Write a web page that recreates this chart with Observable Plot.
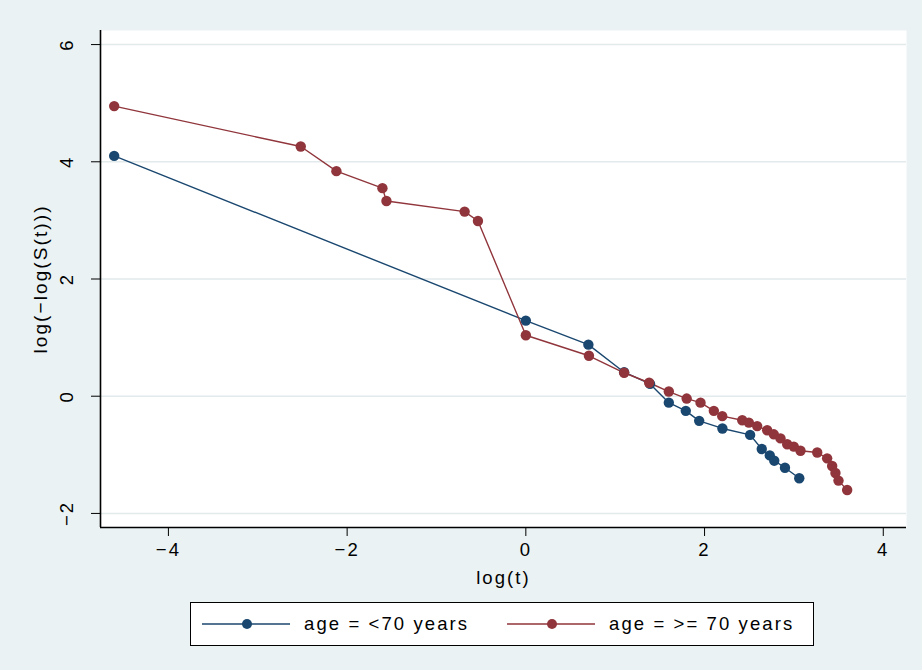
<!DOCTYPE html>
<html>
<head>
<meta charset="utf-8">
<script src="https://cdn.jsdelivr.net/npm/d3@7"></script>
<script src="https://cdn.jsdelivr.net/npm/@observablehq/plot@0.6"></script>
<style>
  body { margin: 0; background: #eaf2f3; }
  #wrap { position: relative; width: 922px; height: 670px; background: #eaf2f3; font-family: "Liberation Sans", Arial, sans-serif; }
  #legend { position: absolute; left: 190px; top: 602px; width: 622px; height: 42px; border: 1.5px solid #000; background: #fff; }
  .item { position: absolute; top: 0; height: 42px; display: flex; align-items: center; }
  .lbl { font-size: 18.5px; letter-spacing: 2.1px; color: #000; margin-left: 14px; white-space: nowrap; }
</style>
</head>
<body>
<div id="wrap"><div id="legend"></div></div>
<script>
// ---- data ----
const groups = ["age = <70 years", "age = >= 70 years"];
const colors = ["#1a476f", "#90353b"];

const youngLogT    = [-4.607, 0.000, 0.700, 1.100, 1.390, 1.600, 1.790, 1.940, 2.200, 2.510, 2.640, 2.730, 2.780, 2.900, 3.060];
const youngLogLogS = [ 4.100, 1.290, 0.880, 0.410, 0.210, -0.110, -0.250, -0.420, -0.550, -0.660, -0.900, -1.010, -1.100, -1.220, -1.400];

const oldLogT    = [-4.607, -2.519, -2.120, -1.605, -1.560, -0.685, -0.536, 0.000, 0.706, 1.100, 1.380, 1.600, 1.800, 1.955, 2.104, 2.198, 2.422, 2.496, 2.589, 2.701, 2.775, 2.850, 2.925, 2.999, 3.074, 3.261, 3.372, 3.428, 3.465, 3.499, 3.596];
const oldLogLogS = [ 4.950, 4.260, 3.840, 3.550, 3.330, 3.150, 2.990, 1.040, 0.690, 0.400, 0.230, 0.080, -0.040, -0.110, -0.250, -0.340, -0.410, -0.450, -0.510, -0.580, -0.650, -0.720, -0.820, -0.860, -0.930, -0.960, -1.060, -1.190, -1.310, -1.440, -1.600];

const xTicks = [-4, -2, 0, 2, 4];
const yTicks = [-2, 0, 2, 4, 6];
const xDomain = [-4.76, 4.26];
const yDomain = [-2.24, 6.24];
const xTitle = "log(t)";
const yTitle = "log(−log(S(t)))";

// ---- build table ----
const rows = [];
youngLogT.forEach((t, i) => rows.push({group: groups[0], logT: t, v: youngLogLogS[i]}));
oldLogT.forEach((t, i) => rows.push({group: groups[1], logT: t, v: oldLogLogS[i]}));

const fmt = d => d < 0 ? "−" + Math.abs(d) : String(d);
const font = "Liberation Sans, Arial, sans-serif";

const chart = Plot.plot({
  width: 922,
  height: 600,
  marginLeft: 100,
  marginRight: 16,
  marginTop: 30,
  marginBottom: 73,
  style: {background: "#eaf2f3", fontSize: "18.5px", fontFamily: font, letterSpacing: "2.1px", color: "#000"},
  x: {domain: xDomain},
  y: {domain: yDomain},
  color: {domain: groups, range: colors},
  marks: [
    Plot.frame({fill: "white", stroke: "none"}),
    Plot.ruleY(yTicks, {stroke: "#e2eaec", strokeWidth: 1.5}),
    Plot.ruleX([xDomain[0]], {stroke: "#000", strokeWidth: 1.6}),
    Plot.ruleY([yDomain[0]], {stroke: "#000", strokeWidth: 1.6}),
    Plot.axisX({ticks: xTicks, tickSize: 9, tickPadding: 6, tickFormat: fmt, label: null, fontSize: 18.5}),
    Plot.axisY({ticks: yTicks, tickSize: 9, tickFormat: () => "", label: null}),
    Plot.text(yTicks, {x: xDomain[0], y: d => d, text: fmt, rotate: -90, dx: -33, textAnchor: "middle", lineAnchor: "middle", fontSize: 18.5}),
    Plot.text([xTitle], {frameAnchor: "bottom", dy: 51, text: d => d, textAnchor: "middle", lineAnchor: "middle", fontSize: 18.5}),
    Plot.text([yTitle], {frameAnchor: "left", dx: -60, rotate: -90, text: d => d, textAnchor: "middle", lineAnchor: "middle", fontSize: 19}),
    Plot.line(rows, {x: "logT", y: "v", z: "group", stroke: "group", strokeWidth: 1.4}),
    Plot.dot(rows, {x: "logT", y: "v", fill: "group", r: 5.2})
  ]
});
chart.style.position = "absolute";
chart.style.left = "0px";
chart.style.top = "0px";
document.getElementById("wrap").prepend(chart);

// ---- legend ----
const legend = document.getElementById("legend");
const offsets = [11, 316];
groups.forEach((g, i) => {
  const item = document.createElement("div");
  item.className = "item";
  item.style.left = offsets[i] + "px";
  item.innerHTML = `<svg width="88" height="14" style="overflow:visible"><line x1="0" x2="88" y1="7" y2="7" stroke="${colors[i]}" stroke-width="1.4"/><circle cx="45" cy="7" r="5" fill="${colors[i]}"/></svg><span class="lbl">${g.replace(/</g, "&lt;").replace(/>/g, "&gt;")}</span>`;
  legend.appendChild(item);
});
</script>
</body>
</html>
